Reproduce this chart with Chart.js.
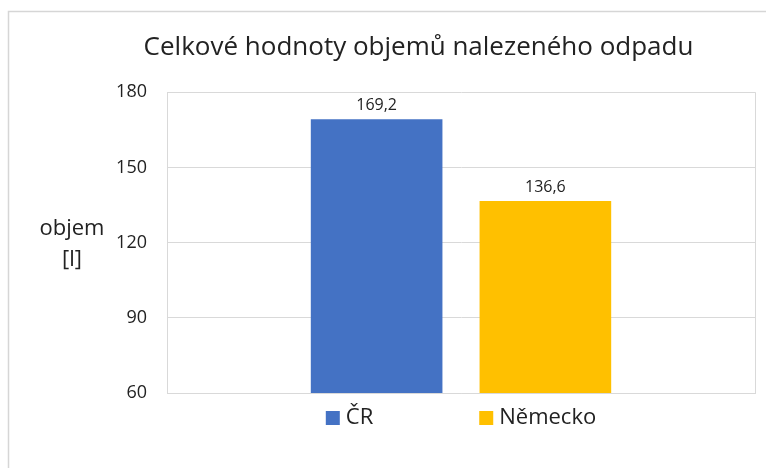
<!DOCTYPE html>
<html>
<head>
<meta charset="utf-8">
<script src="https://cdn.jsdelivr.net/npm/chart.js@4"></script>
<style>
  body { margin: 0; background: #fff; }
  #wrap { width: 766px; height: 468px; }
</style>
</head>
<body>
<div id="wrap"><canvas id="grafObjem"></canvas></div>
<script>
const kategorie = [''];
const serie = ['ČR', 'Německo'];
const hodnotyCR = [169.2];
const hodnotyNemecko = [136.6];
const barvy = ['#4472c4', '#ffc000'];
const tickyY = [60, 90, 120, 150, 180];

const pismo = '"Open Sans", "Noto Sans", sans-serif';
const barvaTextu = '#222222';
const barvaMrizky = '#d9d9d9';

// ramecek grafu (jen levy a horni okraj je videt)
const ramecek = {
    id: 'ramecek',
    beforeDraw(chart) {
        const ctx = chart.ctx;
        ctx.save();
        ctx.strokeStyle = '#d6d6d6';
        ctx.lineWidth = 1.5;
        ctx.beginPath();
        ctx.moveTo(8.5, chart.height);
        ctx.lineTo(8.5, 11.5);
        ctx.lineTo(chart.width, 11.5);
        ctx.stroke();
        ctx.restore();
    }
};

// popisky hodnot nad sloupci + popisek osy Y + legenda
const popisky = {
    id: 'popisky',
    afterDatasetsDraw(chart) {
        const ctx = chart.ctx;
        ctx.save();
        ctx.fillStyle = barvaTextu;
        ctx.textAlign = 'center';
        ctx.textBaseline = 'middle';
        ctx.font = '16px ' + pismo;
        chart.data.datasets.forEach((ds, i) => {
            chart.getDatasetMeta(i).data.forEach((bar, j) => {
                const txt = ds.data[j].toFixed(1).replace('.', ',');
                ctx.fillText(txt, bar.x, bar.y - 14);
            });
        });

        // popisek osy Y vodorovne
        ctx.font = '22px ' + pismo;
        ctx.fillText('objem', 72, 229);
        ctx.fillText('[l]', 72, 260);

        // legenda dole
        const area = chart.chartArea;
        ctx.font = '22px ' + pismo;
        ctx.textAlign = 'left';
        const box = 14, mezera = 6, rozestup = 106;
        const sirky = serie.map(s => box + mezera + ctx.measureText(s).width);
        const celkem = sirky.reduce((a, b) => a + b, 0) + rozestup * (serie.length - 1);
        let x = (area.left + area.right) / 2 - celkem / 2;
        const y = 418;
        serie.forEach((s, i) => {
            ctx.fillStyle = barvy[i];
            ctx.fillRect(x, y - box / 2, box, box);
            ctx.fillStyle = barvaTextu;
            ctx.fillText(s, x + box + mezera, y);
            x += sirky[i] + rozestup;
        });
        ctx.restore();
    }
};

new Chart(document.getElementById('grafObjem'), {
    type: 'bar',
    data: {
        labels: kategorie,
        datasets: [
            {
                label: serie[0],
                data: hodnotyCR,
                backgroundColor: barvy[0],
                borderWidth: 0,
                categoryPercentage: 0.574,
                barPercentage: 0.78
            },
            {
                label: serie[1],
                data: hodnotyNemecko,
                backgroundColor: barvy[1],
                borderWidth: 0,
                categoryPercentage: 0.574,
                barPercentage: 0.78
            }
        ]
    },
    options: {
        responsive: true,
        maintainAspectRatio: false,
        animation: false,
        layout: {
            padding: { left: 82, right: 11, top: 20, bottom: 75 }
        },
        plugins: {
            legend: { display: false },
            tooltip: { enabled: false },
            title: {
                display: true,
                text: 'Celkové hodnoty objemů nalezeného odpadu',
                color: barvaTextu,
                font: { family: pismo, size: 26, weight: 'normal' },
                padding: { top: 12, bottom: 29 }
            }
        },
        scales: {
            x: {
                offset: true,
                grid: { display: true, color: barvaMrizky, drawTicks: false },
                border: { display: true, color: barvaMrizky },
                ticks: { display: false }
            },
            y: {
                min: tickyY[0],
                max: tickyY[tickyY.length - 1],
                afterBuildTicks(scale) {
                    scale.ticks = tickyY.map(v => ({ value: v }));
                },
                afterFit(scale) {
                    scale.width = 85;
                },
                grid: { color: barvaMrizky, drawTicks: false },
                border: { display: true, color: barvaMrizky },
                ticks: {
                    color: barvaTextu,
                    padding: 20,
                    font: { family: pismo, size: 18 }
                }
            }
        }
    },
    plugins: [ramecek, popisky]
});
</script>
</body>
</html>
